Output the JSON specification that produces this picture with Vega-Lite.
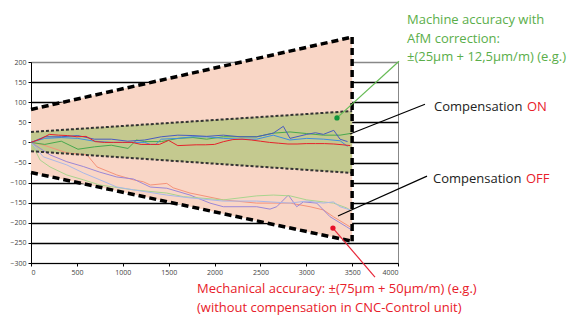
{
  "$schema": "https://vega.github.io/schema/vega-lite/v6.json",
  "autosize": {"type": "none"},
  "width": 367,
  "height": 201,
  "padding": {"left": 31, "top": 62, "right": 184, "bottom": 52},
  "background": "white",
  "config": {
    "view": {"stroke": "#888", "strokeWidth": 1},
    "text": {"font": "Open Sans"},
    "axis": {"labelFont": "Open Sans", "labelFontSize": 7, "labelColor": "#444", "tickColor": "black", "domainColor": "black", "tickSize": 3, "format": "d", "labelPadding": 2, "title": null},
    "axisX": {"grid": false, "tickCount": 8},
    "axisY": {"grid": true, "tickCount": 10, "gridColor": {"condition": {"test": "datum.value == 200 || datum.value == -300", "value": "#888888"}, "value": "black"}, "gridWidth": 1.3, "gridOpacity": 1, "zindex": 1}
  },
  "datasets": {
    "bands": [
      {"x": 0, "ohi": 82, "olo": -75, "ihi": 26, "ilo": -22},
      {"x": 3500, "ohi": 262, "olo": -246, "ihi": 78, "ilo": -76}
    ],
    "series": [
      {"s": "off_orange", "x": 0, "y": 0}, {"s": "off_orange", "x": 130, "y": -6}, {"s": "off_orange", "x": 390, "y": -26}, {"s": "off_orange", "x": 610, "y": -31}, {"s": "off_orange", "x": 720, "y": -61}, {"s": "off_orange", "x": 935, "y": -81}, {"s": "off_orange", "x": 1115, "y": -93}, {"s": "off_orange", "x": 1225, "y": -98}, {"s": "off_orange", "x": 1300, "y": -106}, {"s": "off_orange", "x": 1480, "y": -102}, {"s": "off_orange", "x": 1550, "y": -113}, {"s": "off_orange", "x": 1733, "y": -126}, {"s": "off_orange", "x": 2096, "y": -143}, {"s": "off_orange", "x": 2460, "y": -151}, {"s": "off_orange", "x": 2823, "y": -151}, {"s": "off_orange", "x": 3041, "y": -160}, {"s": "off_orange", "x": 3187, "y": -168}, {"s": "off_orange", "x": 3296, "y": -185}, {"s": "off_orange", "x": 3477, "y": -210},
      {"s": "off_purple", "x": 0, "y": 0}, {"s": "off_purple", "x": 100, "y": -15}, {"s": "off_purple", "x": 207, "y": -31}, {"s": "off_purple", "x": 390, "y": -48}, {"s": "off_purple", "x": 570, "y": -60}, {"s": "off_purple", "x": 750, "y": -74}, {"s": "off_purple", "x": 935, "y": -86}, {"s": "off_purple", "x": 1115, "y": -91}, {"s": "off_purple", "x": 1300, "y": -111}, {"s": "off_purple", "x": 1480, "y": -114}, {"s": "off_purple", "x": 1733, "y": -131}, {"s": "off_purple", "x": 1951, "y": -151}, {"s": "off_purple", "x": 2096, "y": -160}, {"s": "off_purple", "x": 2460, "y": -160}, {"s": "off_purple", "x": 2605, "y": -166}, {"s": "off_purple", "x": 2678, "y": -160}, {"s": "off_purple", "x": 2805, "y": -131}, {"s": "off_purple", "x": 2896, "y": -160}, {"s": "off_purple", "x": 2969, "y": -148}, {"s": "off_purple", "x": 3114, "y": -151}, {"s": "off_purple", "x": 3260, "y": -185}, {"s": "off_purple", "x": 3440, "y": -210}, {"s": "off_purple", "x": 3496, "y": -218},
      {"s": "off_green", "x": 0, "y": 0}, {"s": "off_green", "x": 100, "y": -44}, {"s": "off_green", "x": 207, "y": -61}, {"s": "off_green", "x": 390, "y": -81}, {"s": "off_green", "x": 570, "y": -93}, {"s": "off_green", "x": 750, "y": -106}, {"s": "off_green", "x": 1115, "y": -118}, {"s": "off_green", "x": 1480, "y": -126}, {"s": "off_green", "x": 1660, "y": -135}, {"s": "off_green", "x": 2096, "y": -143}, {"s": "off_green", "x": 2460, "y": -133}, {"s": "off_green", "x": 2641, "y": -131}, {"s": "off_green", "x": 2823, "y": -133}, {"s": "off_green", "x": 3005, "y": -143}, {"s": "off_green", "x": 3187, "y": -148}, {"s": "off_green", "x": 3296, "y": -151}, {"s": "off_green", "x": 3441, "y": -163}, {"s": "off_green", "x": 3490, "y": -170},
      {"s": "off_lblue", "x": 0, "y": 0}, {"s": "off_lblue", "x": 135, "y": -36}, {"s": "off_lblue", "x": 390, "y": -56}, {"s": "off_lblue", "x": 570, "y": -76}, {"s": "off_lblue", "x": 750, "y": -93}, {"s": "off_lblue", "x": 935, "y": -111}, {"s": "off_lblue", "x": 1115, "y": -118}, {"s": "off_lblue", "x": 1480, "y": -131}, {"s": "off_lblue", "x": 1733, "y": -138}, {"s": "off_lblue", "x": 2096, "y": -146}, {"s": "off_lblue", "x": 2460, "y": -146}, {"s": "off_lblue", "x": 2823, "y": -151}, {"s": "off_lblue", "x": 3005, "y": -146}, {"s": "off_lblue", "x": 3187, "y": -151}, {"s": "off_lblue", "x": 3296, "y": -148}, {"s": "off_lblue", "x": 3368, "y": -160}, {"s": "off_lblue", "x": 3477, "y": -168},
      {"s": "on_green", "x": 0, "y": 0}, {"s": "on_green", "x": 150, "y": -5}, {"s": "on_green", "x": 330, "y": 3}, {"s": "on_green", "x": 512, "y": -17}, {"s": "on_green", "x": 693, "y": -11}, {"s": "on_green", "x": 875, "y": -7}, {"s": "on_green", "x": 1057, "y": -15}, {"s": "on_green", "x": 1150, "y": 6}, {"s": "on_green", "x": 1239, "y": 2}, {"s": "on_green", "x": 1420, "y": 2}, {"s": "on_green", "x": 1602, "y": 10}, {"s": "on_green", "x": 1765, "y": 12}, {"s": "on_green", "x": 1915, "y": 8}, {"s": "on_green", "x": 2096, "y": 14}, {"s": "on_green", "x": 2278, "y": 14}, {"s": "on_green", "x": 2460, "y": 14}, {"s": "on_green", "x": 2641, "y": 23}, {"s": "on_green", "x": 2823, "y": 26}, {"s": "on_green", "x": 3005, "y": 22}, {"s": "on_green", "x": 3187, "y": 18}, {"s": "on_green", "x": 3368, "y": 18}, {"s": "on_green", "x": 3477, "y": 22},
      {"s": "on_blue", "x": 0, "y": 0}, {"s": "on_blue", "x": 150, "y": 10}, {"s": "on_blue", "x": 330, "y": 12}, {"s": "on_blue", "x": 510, "y": 10}, {"s": "on_blue", "x": 690, "y": 3}, {"s": "on_blue", "x": 875, "y": 0}, {"s": "on_blue", "x": 1055, "y": 0}, {"s": "on_blue", "x": 1240, "y": 0}, {"s": "on_blue", "x": 1300, "y": -5}, {"s": "on_blue", "x": 1360, "y": -5}, {"s": "on_blue", "x": 1420, "y": 8}, {"s": "on_blue", "x": 1600, "y": 10}, {"s": "on_blue", "x": 1765, "y": 14}, {"s": "on_blue", "x": 1915, "y": 14}, {"s": "on_blue", "x": 2100, "y": 10}, {"s": "on_blue", "x": 2280, "y": 8}, {"s": "on_blue", "x": 2460, "y": 8}, {"s": "on_blue", "x": 2640, "y": 18}, {"s": "on_blue", "x": 2820, "y": 6}, {"s": "on_blue", "x": 3005, "y": 10}, {"s": "on_blue", "x": 3190, "y": 8}, {"s": "on_blue", "x": 3370, "y": 4}, {"s": "on_blue", "x": 3450, "y": -10},
      {"s": "on_dblue", "x": 0, "y": 0}, {"s": "on_dblue", "x": 150, "y": 14}, {"s": "on_dblue", "x": 330, "y": 14}, {"s": "on_dblue", "x": 510, "y": 17}, {"s": "on_dblue", "x": 690, "y": 8}, {"s": "on_dblue", "x": 875, "y": 8}, {"s": "on_dblue", "x": 1055, "y": 3}, {"s": "on_dblue", "x": 1240, "y": 6}, {"s": "on_dblue", "x": 1420, "y": 14}, {"s": "on_dblue", "x": 1600, "y": 18}, {"s": "on_dblue", "x": 1765, "y": 17}, {"s": "on_dblue", "x": 1915, "y": 15}, {"s": "on_dblue", "x": 2096, "y": 18}, {"s": "on_dblue", "x": 2278, "y": 14}, {"s": "on_dblue", "x": 2460, "y": 14}, {"s": "on_dblue", "x": 2641, "y": 23}, {"s": "on_dblue", "x": 2750, "y": 40}, {"s": "on_dblue", "x": 2823, "y": 10}, {"s": "on_dblue", "x": 3005, "y": 20}, {"s": "on_dblue", "x": 3100, "y": 24}, {"s": "on_dblue", "x": 3187, "y": 20}, {"s": "on_dblue", "x": 3300, "y": 30}, {"s": "on_dblue", "x": 3368, "y": 8}, {"s": "on_dblue", "x": 3450, "y": 2},
      {"s": "on_red", "x": 0, "y": 0}, {"s": "on_red", "x": 100, "y": 8}, {"s": "on_red", "x": 200, "y": 20}, {"s": "on_red", "x": 300, "y": 18}, {"s": "on_red", "x": 400, "y": 17}, {"s": "on_red", "x": 500, "y": 14}, {"s": "on_red", "x": 600, "y": 15}, {"s": "on_red", "x": 700, "y": 2}, {"s": "on_red", "x": 800, "y": 0}, {"s": "on_red", "x": 900, "y": 0}, {"s": "on_red", "x": 1000, "y": 0}, {"s": "on_red", "x": 1100, "y": 0}, {"s": "on_red", "x": 1200, "y": -5}, {"s": "on_red", "x": 1300, "y": -5}, {"s": "on_red", "x": 1400, "y": -5}, {"s": "on_red", "x": 1500, "y": 5}, {"s": "on_red", "x": 1600, "y": -8}, {"s": "on_red", "x": 1700, "y": -7}, {"s": "on_red", "x": 1800, "y": -6}, {"s": "on_red", "x": 1900, "y": -6}, {"s": "on_red", "x": 2000, "y": -5}, {"s": "on_red", "x": 2100, "y": 2}, {"s": "on_red", "x": 2200, "y": 7}, {"s": "on_red", "x": 2300, "y": 8}, {"s": "on_red", "x": 2400, "y": 6}, {"s": "on_red", "x": 2500, "y": 3}, {"s": "on_red", "x": 2600, "y": 0}, {"s": "on_red", "x": 2700, "y": -2}, {"s": "on_red", "x": 2800, "y": -4}, {"s": "on_red", "x": 2900, "y": -4}, {"s": "on_red", "x": 3000, "y": -3}, {"s": "on_red", "x": 3100, "y": -3}, {"s": "on_red", "x": 3200, "y": -3}, {"s": "on_red", "x": 3300, "y": -4}, {"s": "on_red", "x": 3400, "y": -6}, {"s": "on_red", "x": 3480, "y": -8}
    ],
    "leaders": [
      {"x": 3335, "y": 61, "x2": 4011, "y2": 202, "c": "#66bb55"},
      {"x": 3477, "y": 21, "x2": 4294, "y2": 95, "c": "black"},
      {"x": 3346, "y": -183, "x2": 4316, "y2": -84, "c": "black"},
      {"x": 3291, "y": -213, "x2": 3749, "y2": -335, "c": "#e8283a"}
    ],
    "dots": [
      {"x": 3335, "y": 61, "c": "#10953a"},
      {"x": 3291, "y": -213, "c": "#e8102a"}
    ],
    "notes": [
      {"x": 4098, "y": 304, "t": "Machine accuracy with", "c": "#5aae4a"},
      {"x": 4098, "y": 257, "t": "AfM correction:", "c": "#5aae4a"},
      {"x": 4098, "y": 212, "t": "±(25µm + 12,5µm/m) (e.g.)", "c": "#5aae4a"},
      {"x": 4392, "y": 88, "t": "Compensation", "c": "#222222"},
      {"x": 5405, "y": 88, "t": "ON", "c": "#e8202a"},
      {"x": 4381, "y": -91, "t": "Compensation", "c": "#222222"},
      {"x": 5395, "y": -91, "t": "OFF", "c": "#e8202a"},
      {"x": 1809, "y": -365, "t": "Mechanical accuracy: ±(75µm + 50µm/m) (e.g.)", "c": "#e8202a"},
      {"x": 1809, "y": -412, "t": "(without compensation in CNC-Control unit)", "c": "#e8202a"}
    ]
  },
  "layer": [
    {
      "data": {"name": "bands"},
      "mark": {"type": "area", "color": "#f9d6c6", "opacity": 1},
      "encoding": {
        "x": {"field": "x", "type": "quantitative", "scale": {"domain": [0, 4000], "nice": false}},
        "y": {"field": "ohi", "type": "quantitative", "scale": {"domain": [-300, 200], "nice": false}},
        "y2": {"field": "olo"}
      }
    },
    {
      "data": {"name": "bands"},
      "mark": {"type": "area", "color": "#c4c98f", "opacity": 1},
      "encoding": {
        "x": {"field": "x", "type": "quantitative"},
        "y": {"field": "ihi", "type": "quantitative"},
        "y2": {"field": "ilo"}
      }
    },
    {
      "data": {"name": "series"},
      "mark": {"type": "line", "strokeWidth": 1},
      "encoding": {
        "x": {"field": "x", "type": "quantitative"},
        "y": {"field": "y", "type": "quantitative"},
        "detail": {"field": "s"},
        "color": {"field": "s", "type": "nominal", "legend": null, "scale": {
          "domain": ["off_orange", "off_purple", "off_green", "off_lblue", "on_green", "on_blue", "on_dblue", "on_red"],
          "range": ["#f5927a", "#9b87d6", "#a9d48e", "#aab8e8", "#48a84e", "#3f8ee0", "#4a5bbf", "#e5222b"]}}
      }
    },
    {
      "data": {"name": "bands"},
      "mark": {"type": "line", "color": "black", "strokeWidth": 3.5, "strokeDash": [7, 4]},
      "encoding": {"x": {"field": "x", "type": "quantitative"}, "y": {"field": "ohi", "type": "quantitative"}}
    },
    {
      "data": {"name": "bands"},
      "mark": {"type": "line", "color": "black", "strokeWidth": 3.5, "strokeDash": [7, 4]},
      "encoding": {"x": {"field": "x", "type": "quantitative"}, "y": {"field": "olo", "type": "quantitative"}}
    },
    {
      "data": {"name": "bands"},
      "mark": {"type": "line", "color": "#333333", "strokeWidth": 2, "strokeDash": [3, 2]},
      "encoding": {"x": {"field": "x", "type": "quantitative"}, "y": {"field": "ihi", "type": "quantitative"}}
    },
    {
      "data": {"name": "bands"},
      "mark": {"type": "line", "color": "#333333", "strokeWidth": 2, "strokeDash": [3, 2]},
      "encoding": {"x": {"field": "x", "type": "quantitative"}, "y": {"field": "ilo", "type": "quantitative"}}
    },
    {
      "data": {"name": "bands"},
      "transform": [{"filter": "datum.x == 3500"}],
      "mark": {"type": "rule", "color": "black", "strokeWidth": 3.5, "strokeDash": [7, 4]},
      "encoding": {"x": {"field": "x", "type": "quantitative"}, "y": {"field": "ohi", "type": "quantitative"}, "y2": {"field": "olo"}}
    },
    {
      "data": {"name": "leaders"},
      "mark": {"type": "rule", "strokeWidth": 1.2},
      "encoding": {
        "x": {"field": "x", "type": "quantitative"}, "y": {"field": "y", "type": "quantitative"},
        "x2": {"field": "x2"}, "y2": {"field": "y2"},
        "color": {"field": "c", "type": "nominal", "scale": null}
      }
    },
    {
      "data": {"name": "dots"},
      "mark": {"type": "point", "filled": true, "opacity": 1, "size": 28},
      "encoding": {
        "x": {"field": "x", "type": "quantitative"}, "y": {"field": "y", "type": "quantitative"},
        "color": {"field": "c", "type": "nominal", "scale": null}
      }
    },
    {
      "data": {"name": "notes"},
      "mark": {"type": "text", "align": "left", "baseline": "middle", "fontSize": 13, "font": "Open Sans"},
      "encoding": {
        "x": {"field": "x", "type": "quantitative"}, "y": {"field": "y", "type": "quantitative"},
        "text": {"field": "t"},
        "color": {"field": "c", "type": "nominal", "scale": null}
      }
    }
  ]
}
